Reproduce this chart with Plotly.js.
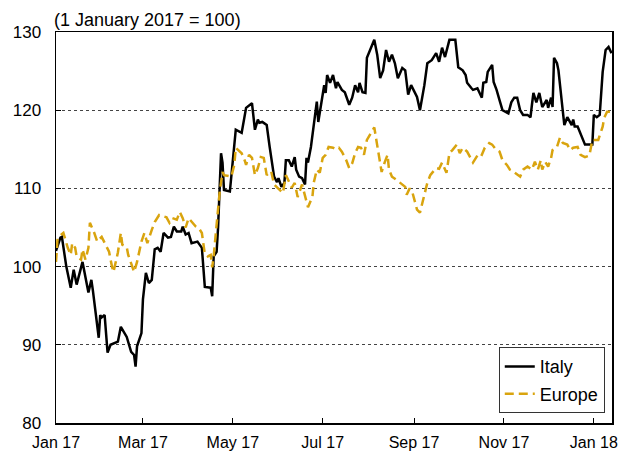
<!DOCTYPE html>
<html>
<head>
<meta charset="utf-8">
<script src="https://cdn.plot.ly/plotly-3.0.1.min.js"></script>
<style>html,body{margin:0;padding:0;background:#fff;}#chart{width:621px;height:451px;}</style>
</head>
<body>
<div id="chart"></div>
<script>
// Days since 1 January 2017, and index values (1 January 2017 = 100)
const italyDays = [0,3,4,7,10,12,14,18,22,24,25,29,30,31,33,35,37,41,42,44,46,48,51,53,54,55,58,59,61,63,65,67,69,71,73,76,78,80,82,85,86,88,90,92,96,99,101,105,106,107,109,110,111,112,113,114,118,120,122,126,129,133,135,137,138,140,143,145,148,150,151,153,155,156,158,160,162,163,165,167,169,170,171,173,175,177,178,180,182,183,184,186,188,190,191,194,196,199,201,203,205,206,208,210,211,216,218,220,222,224,226,228,230,232,235,237,239,241,245,247,250,252,255,258,260,262,264,267,271,273,276,278,279,282,283,286,289,290,292,293,296,297,299,301,303,307,309,311,313,315,317,320,322,323,324,326,328,330,333,334,336,337,338,340,341,344,345,347,350,351,352,354,357,359,364,365,367,369,371,373,375,377];
const italyValues = [102,103.7,103.8,100,97.3,99.6,97.7,100.6,96.7,98.3,97,90.9,93.8,93.5,93.8,89,90,90.3,90.4,92.3,91.7,91,89.1,88.7,87.2,89.8,91.5,95.8,99.2,97.9,98.3,102.2,102.4,101.9,104.3,103.7,103.8,105.1,104.5,104.5,105.1,104.1,104.3,103,103.2,102.4,97.4,97.3,96.2,101.3,101.9,105,109.8,114.5,113.3,109.8,109.6,114,117.5,117.1,120.3,120.9,117.5,118.8,118.4,118.5,118.1,115.3,111.5,110.8,111.3,110.2,110.7,113.6,113.6,112.8,114,112.4,111.5,111.3,110.5,113.9,113.3,115.3,117.9,121.1,118.5,120.9,123.2,122.2,124.5,123.5,124.5,122.8,123.6,122.6,122.3,120.7,121.6,123.2,122.3,123.5,122.3,122.2,126.7,129,127.1,124.1,125.1,127.7,126.2,127.1,126,124.1,125.4,125.1,122,123.2,121.7,120,123.2,126,126.4,127.3,126.2,128,126.8,129,129,125.5,125.1,124.5,123.5,122.8,122.6,122.8,121.6,123.5,123.6,124.9,125.8,123.6,122.6,121.3,120,119.6,121,121.6,121.6,120,119.4,119.4,119.1,120.7,122.2,121,122.2,120.4,121.3,120.3,121.6,120.4,126.7,126,125.1,119.8,118.1,119.1,118.1,118.8,117.9,117.9,116.6,115.6,115.6,119.4,119.1,119.4,124.9,127.7,128.1,127.3];

const europeDays = [0,1,3,5,8,10,11,13,14,17,18,20,22,23,26,28,31,32,34,36,38,39,42,44,45,48,49,52,53,55,58,60,62,65,67,70,73,75,77,79,82,84,86,88,90,92,95,97,99,101,103,105,106,107,109,111,113,114,119,121,122,126,128,129,131,133,135,137,139,141,143,146,148,150,154,156,160,162,164,167,169,171,174,175,177,179,181,183,185,188,190,192,194,197,199,201,203,205,207,209,211,214,216,218,221,223,225,226,228,231,233,237,238,240,242,244,245,247,249,252,254,258,260,262,265,267,269,272,274,276,279,281,283,287,289,291,294,296,298,301,303,306,308,310,313,315,317,320,323,325,327,329,330,332,334,336,337,340,342,344,347,349,351,354,356,359,362,364,368,369,371,372,374,377];
const europeValues = [100.6,103.4,104,104.3,102.4,101.5,103,102.4,101.3,100.9,102.2,100.9,102.4,105.6,104.3,103.2,103.8,103.4,102.5,101.9,100,99.3,101.8,104.3,102.8,102.5,101.5,100,99.3,100.6,103.2,104.3,103,104.7,105.7,106.6,106.4,106.3,105.6,106.2,106,107,106.2,105,106.2,105.7,105.1,104.9,104.3,101.6,101.3,101.5,99.9,101.3,105.1,109.4,112.1,111.7,111.5,113,115.2,114.5,113.6,113,114.3,113.9,111.7,112.6,114,113.9,111.7,112.2,110.5,110.1,109.4,111.7,110.1,110.7,108.9,110.5,108.9,107.6,108.9,110.8,112.4,112,113.9,114.3,115.3,115.2,115,115.2,114.7,113.6,112.6,113.2,114.5,115.3,115.2,114.3,116.2,117.1,117.8,115.5,112.1,113.3,114.3,112.4,111.5,111.1,110.8,110.2,109.2,110,109.4,108.2,107.3,106.9,108.5,110.7,111.7,112.6,112.5,113.3,112,114.5,114.9,115.6,114.5,115.2,114.7,114,113.3,114.5,114.3,115.2,115.8,115.6,115.1,114.7,113.6,113,112.4,112.2,111.8,111.5,112.4,112.8,112.4,113.4,112.4,113.6,112.4,113.4,112.8,113.9,114.9,115.3,116.5,115.8,115.6,114.9,115.2,115.3,114.3,114,114.2,116.2,116.2,116.8,117.9,119,119.8,119.8];

const tickDates = ["2017-01-01","2017-03-01","2017-05-01","2017-07-01","2017-09-01","2017-11-01","2018-01-01"];
const tickLabels = ["Jan 17","Mar 17","May 17","Jul 17","Sep 17","Nov 17","Jan 18"];
const yTicks = [80,90,100,110,120,130];

const start = Date.UTC(2017,0,1);
const toDate = d => new Date(start + d*86400000).toISOString().slice(0,10);

const traces = [
  {x: italyDays.map(toDate), y: italyValues, name: "Italy", mode: "lines", legendgroup: "a",
   line: {color: "#000000", width: 2.5}},
  {x: europeDays.map(toDate), y: europeValues, name: "Europe", mode: "lines", legendgroup: "b",
   line: {color: "#D9A40E", width: 2.5, dash: "9px,5px"}}
];

const layout = {
  width: 621, height: 451,
  margin: {l: 56, r: 9, t: 32, b: 28},
  paper_bgcolor: "#fff", plot_bgcolor: "#fff",
  font: {family: "Liberation Sans, Arial, sans-serif", size: 17, color: "#000"},
  showlegend: true,
  legend: {x: 0.987, xanchor: "right", y: 0.025, yanchor: "bottom",
    bordercolor: "#333", borderwidth: 1, bgcolor: "#fff",
    font: {size: 18}, traceorder: "grouped", tracegroupgap: 1, itemwidth: 30},
  xaxis: {type: "date", range: ["2017-01-01", "2018-01-13 08:00"],
    tickvals: tickDates, ticktext: tickLabels, tickfont: {size: 16},
    ticks: "inside", ticklen: 5, tickcolor: "#000", tickwidth: 1,
    showline: true, linecolor: "#000", linewidth: 1.5, mirror: true,
    showgrid: false, zeroline: false, ticklabelstandoff: 4},
  yaxis: {range: [80, 130], tickvals: yTicks,
    ticks: "inside", ticklen: 5, tickcolor: "#000", tickwidth: 1,
    showline: true, linecolor: "#000", linewidth: 1.5, mirror: true,
    showgrid: true, gridcolor: "#444", griddash: "dot", gridwidth: 1,
    zeroline: false, ticklabelstandoff: 10},
  annotations: [{text: "(1 January 2017 = 100)", xref: "paper", yref: "paper",
    x: -0.007, y: 1, xanchor: "left", yanchor: "bottom", yshift: 0,
    showarrow: false, font: {size: 18}}]
};

Plotly.newPlot("chart", traces, layout, {staticPlot: true, displayModeBar: false});
</script>
</body>
</html>
